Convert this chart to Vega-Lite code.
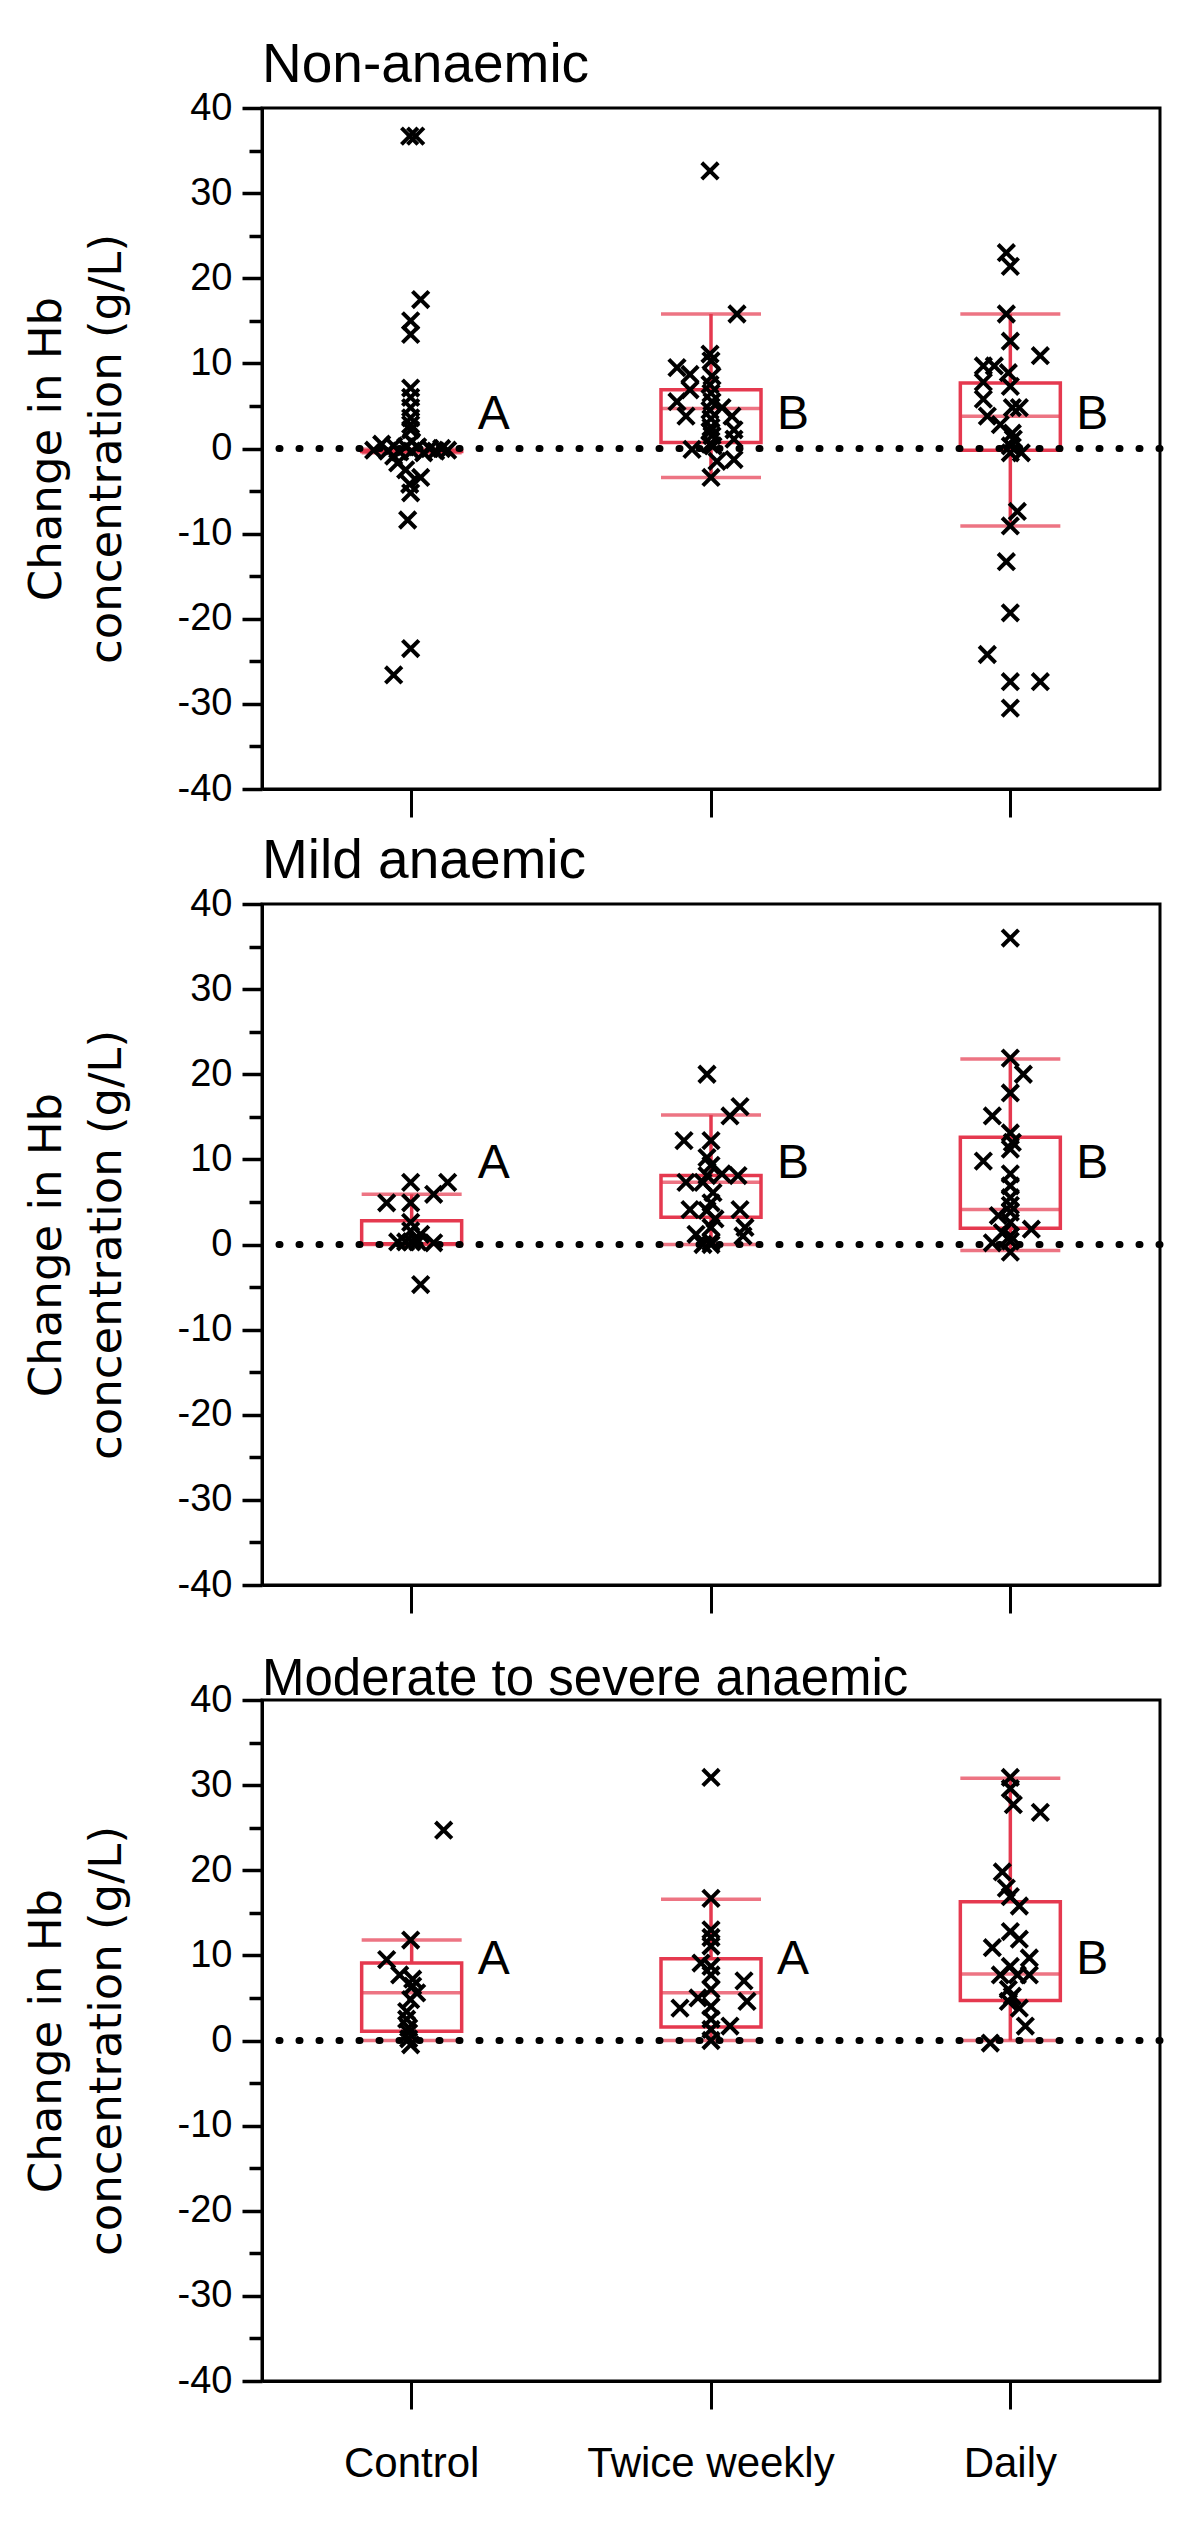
{
  "$schema": "https://vega.github.io/schema/vega-lite/v6.json",
  "autosize": "none",
  "padding": {"left": 262, "top": 108, "right": 40, "bottom": 2423},
  "background": "white",
  "config": {
    "view": {"stroke": "black", "strokeWidth": 3},
    "font": "Liberation Sans",
    "axis": {"domainColor": "black", "tickColor": "black", "labelColor": "black", "titleColor": "black", "grid": false, "domainWidth": 3, "tickWidth": 3, "labelFont": "Liberation Sans", "labelLimit": 0},
    "title": {"color": "black", "fontWeight": "normal", "font": "Liberation Sans"}
  },
  "datasets": {
    "pts": [
      {"p":"N","g":"Control","v":36.7,"j":-2},{"p":"N","g":"Control","v":36.7,"j":4},{"p":"N","g":"Control","v":17.5,"j":9},{"p":"N","g":"Control","v":15.0,"j":-1},{"p":"N","g":"Control","v":13.4,"j":-1},{"p":"N","g":"Control","v":7.1,"j":-1},{"p":"N","g":"Control","v":6.0,"j":-1},{"p":"N","g":"Control","v":4.8,"j":-1},{"p":"N","g":"Control","v":3.6,"j":-1},{"p":"N","g":"Control","v":2.8,"j":-1},{"p":"N","g":"Control","v":2.2,"j":-1},{"p":"N","g":"Control","v":0.8,"j":0},{"p":"N","g":"Control","v":0.5,"j":-30},{"p":"N","g":"Control","v":0.3,"j":-18},{"p":"N","g":"Control","v":0.2,"j":-6},{"p":"N","g":"Control","v":0.2,"j":6},{"p":"N","g":"Control","v":0.0,"j":18},{"p":"N","g":"Control","v":0.0,"j":30},{"p":"N","g":"Control","v":-0.2,"j":-38},{"p":"N","g":"Control","v":-0.3,"j":-24},{"p":"N","g":"Control","v":-0.4,"j":-12},{"p":"N","g":"Control","v":-0.3,"j":0},{"p":"N","g":"Control","v":-0.5,"j":12},{"p":"N","g":"Control","v":-0.3,"j":24},{"p":"N","g":"Control","v":-0.2,"j":36},{"p":"N","g":"Control","v":-0.9,"j":-18},{"p":"N","g":"Control","v":-1.7,"j":-14},{"p":"N","g":"Control","v":-2.5,"j":-6},{"p":"N","g":"Control","v":-3.4,"j":9},{"p":"N","g":"Control","v":-4.2,"j":-2},{"p":"N","g":"Control","v":-5.2,"j":-1},{"p":"N","g":"Control","v":-8.4,"j":-4},{"p":"N","g":"Control","v":-23.5,"j":-1},{"p":"N","g":"Control","v":-26.6,"j":-18},
      {"p":"N","g":"Twice weekly","v":32.6,"j":-1},{"p":"N","g":"Twice weekly","v":15.8,"j":26},{"p":"N","g":"Twice weekly","v":11.1,"j":-1},{"p":"N","g":"Twice weekly","v":10.3,"j":0},{"p":"N","g":"Twice weekly","v":9.5,"j":-34},{"p":"N","g":"Twice weekly","v":8.7,"j":-21},{"p":"N","g":"Twice weekly","v":8.5,"j":1},{"p":"N","g":"Twice weekly","v":7.5,"j":-1},{"p":"N","g":"Twice weekly","v":6.9,"j":-21},{"p":"N","g":"Twice weekly","v":6.5,"j":0},{"p":"N","g":"Twice weekly","v":5.5,"j":-34},{"p":"N","g":"Twice weekly","v":5.5,"j":1},{"p":"N","g":"Twice weekly","v":4.8,"j":11},{"p":"N","g":"Twice weekly","v":4.5,"j":-1},{"p":"N","g":"Twice weekly","v":3.8,"j":-25},{"p":"N","g":"Twice weekly","v":3.8,"j":21},{"p":"N","g":"Twice weekly","v":3.5,"j":0},{"p":"N","g":"Twice weekly","v":2.5,"j":0},{"p":"N","g":"Twice weekly","v":2.2,"j":23},{"p":"N","g":"Twice weekly","v":2.0,"j":-1},{"p":"N","g":"Twice weekly","v":1.5,"j":1},{"p":"N","g":"Twice weekly","v":1.1,"j":23},{"p":"N","g":"Twice weekly","v":0.5,"j":-1},{"p":"N","g":"Twice weekly","v":0.3,"j":2},{"p":"N","g":"Twice weekly","v":-0.1,"j":-19},{"p":"N","g":"Twice weekly","v":-1.3,"j":23},{"p":"N","g":"Twice weekly","v":-1.5,"j":6},{"p":"N","g":"Twice weekly","v":-3.4,"j":0},
      {"p":"N","g":"Daily","v":23.0,"j":-4},{"p":"N","g":"Daily","v":21.4,"j":0},{"p":"N","g":"Daily","v":15.8,"j":-4},{"p":"N","g":"Daily","v":12.6,"j":0},{"p":"N","g":"Daily","v":10.9,"j":30},{"p":"N","g":"Daily","v":9.7,"j":-27},{"p":"N","g":"Daily","v":9.7,"j":-16},{"p":"N","g":"Daily","v":8.9,"j":-2},{"p":"N","g":"Daily","v":7.8,"j":-27},{"p":"N","g":"Daily","v":7.3,"j":0},{"p":"N","g":"Daily","v":5.8,"j":-27},{"p":"N","g":"Daily","v":4.8,"j":2},{"p":"N","g":"Daily","v":4.8,"j":9},{"p":"N","g":"Daily","v":3.8,"j":-23},{"p":"N","g":"Daily","v":2.8,"j":-10},{"p":"N","g":"Daily","v":1.8,"j":2},{"p":"N","g":"Daily","v":1.1,"j":3},{"p":"N","g":"Daily","v":0.3,"j":0},{"p":"N","g":"Daily","v":-0.5,"j":11},{"p":"N","g":"Daily","v":-0.5,"j":0},{"p":"N","g":"Daily","v":-7.4,"j":7},{"p":"N","g":"Daily","v":-9.1,"j":0},{"p":"N","g":"Daily","v":-13.3,"j":-4},{"p":"N","g":"Daily","v":-19.3,"j":0},{"p":"N","g":"Daily","v":-24.2,"j":-23},{"p":"N","g":"Daily","v":-27.4,"j":0},{"p":"N","g":"Daily","v":-27.4,"j":30},{"p":"N","g":"Daily","v":-30.5,"j":0},
      {"p":"M","g":"Control","v":7.3,"j":-1},{"p":"M","g":"Control","v":7.3,"j":36},{"p":"M","g":"Control","v":5.9,"j":22},{"p":"M","g":"Control","v":4.9,"j":-25},{"p":"M","g":"Control","v":4.9,"j":-1},{"p":"M","g":"Control","v":2.6,"j":-1},{"p":"M","g":"Control","v":1.6,"j":-1},{"p":"M","g":"Control","v":1.2,"j":9},{"p":"M","g":"Control","v":0.3,"j":-14},{"p":"M","g":"Control","v":0.3,"j":-6},{"p":"M","g":"Control","v":0.3,"j":0},{"p":"M","g":"Control","v":0.3,"j":6},{"p":"M","g":"Control","v":0.2,"j":22},{"p":"M","g":"Control","v":-4.7,"j":9},
      {"p":"M","g":"Twice weekly","v":20.0,"j":-4},{"p":"M","g":"Twice weekly","v":16.2,"j":29},{"p":"M","g":"Twice weekly","v":15.1,"j":19},{"p":"M","g":"Twice weekly","v":12.2,"j":-27},{"p":"M","g":"Twice weekly","v":12.2,"j":0},{"p":"M","g":"Twice weekly","v":10.2,"j":-4},{"p":"M","g":"Twice weekly","v":9.3,"j":0},{"p":"M","g":"Twice weekly","v":8.1,"j":-4},{"p":"M","g":"Twice weekly","v":8.3,"j":11},{"p":"M","g":"Twice weekly","v":8.1,"j":27},{"p":"M","g":"Twice weekly","v":7.3,"j":-25},{"p":"M","g":"Twice weekly","v":7.3,"j":-8},{"p":"M","g":"Twice weekly","v":6.1,"j":2},{"p":"M","g":"Twice weekly","v":4.9,"j":0},{"p":"M","g":"Twice weekly","v":4.1,"j":-21},{"p":"M","g":"Twice weekly","v":4.1,"j":29},{"p":"M","g":"Twice weekly","v":4.0,"j":-4},{"p":"M","g":"Twice weekly","v":3.0,"j":4},{"p":"M","g":"Twice weekly","v":2.0,"j":0},{"p":"M","g":"Twice weekly","v":2.0,"j":34},{"p":"M","g":"Twice weekly","v":1.0,"j":32},{"p":"M","g":"Twice weekly","v":1.2,"j":-15},{"p":"M","g":"Twice weekly","v":0.3,"j":0},{"p":"M","g":"Twice weekly","v":0.0,"j":-8},{"p":"M","g":"Twice weekly","v":0.0,"j":0},
      {"p":"M","g":"Daily","v":36.0,"j":0},{"p":"M","g":"Daily","v":21.9,"j":0},{"p":"M","g":"Daily","v":20.0,"j":13},{"p":"M","g":"Daily","v":17.8,"j":0},{"p":"M","g":"Daily","v":15.1,"j":-18},{"p":"M","g":"Daily","v":13.1,"j":0},{"p":"M","g":"Daily","v":12.0,"j":2},{"p":"M","g":"Daily","v":11.2,"j":0},{"p":"M","g":"Daily","v":9.8,"j":-27},{"p":"M","g":"Daily","v":8.3,"j":0},{"p":"M","g":"Daily","v":6.9,"j":0},{"p":"M","g":"Daily","v":5.5,"j":0},{"p":"M","g":"Daily","v":4.6,"j":0},{"p":"M","g":"Daily","v":3.8,"j":0},{"p":"M","g":"Daily","v":3.4,"j":-12},{"p":"M","g":"Daily","v":2.6,"j":0},{"p":"M","g":"Daily","v":1.8,"j":21},{"p":"M","g":"Daily","v":1.4,"j":-8},{"p":"M","g":"Daily","v":1.0,"j":0},{"p":"M","g":"Daily","v":0.4,"j":0},{"p":"M","g":"Daily","v":0.2,"j":-18},{"p":"M","g":"Daily","v":-0.9,"j":0},
      {"p":"S","g":"Control","v":24.7,"j":32},{"p":"S","g":"Control","v":11.8,"j":-1},{"p":"S","g":"Control","v":9.5,"j":-25},{"p":"S","g":"Control","v":7.7,"j":-12},{"p":"S","g":"Control","v":7.2,"j":1},{"p":"S","g":"Control","v":6.4,"j":1},{"p":"S","g":"Control","v":5.6,"j":5},{"p":"S","g":"Control","v":4.8,"j":-1},{"p":"S","g":"Control","v":3.4,"j":-5},{"p":"S","g":"Control","v":2.5,"j":-5},{"p":"S","g":"Control","v":1.5,"j":-3},{"p":"S","g":"Control","v":0.9,"j":-3},{"p":"S","g":"Control","v":0.2,"j":-3},{"p":"S","g":"Control","v":-0.5,"j":-1},
      {"p":"S","g":"Twice weekly","v":30.9,"j":0},{"p":"S","g":"Twice weekly","v":16.7,"j":0},{"p":"S","g":"Twice weekly","v":13.0,"j":0},{"p":"S","g":"Twice weekly","v":12.1,"j":0},{"p":"S","g":"Twice weekly","v":11.1,"j":0},{"p":"S","g":"Twice weekly","v":9.1,"j":-10},{"p":"S","g":"Twice weekly","v":8.7,"j":0},{"p":"S","g":"Twice weekly","v":7.7,"j":0},{"p":"S","g":"Twice weekly","v":7.0,"j":33},{"p":"S","g":"Twice weekly","v":6.0,"j":0},{"p":"S","g":"Twice weekly","v":5.0,"j":-13},{"p":"S","g":"Twice weekly","v":3.8,"j":-31},{"p":"S","g":"Twice weekly","v":4.6,"j":36},{"p":"S","g":"Twice weekly","v":4.0,"j":0},{"p":"S","g":"Twice weekly","v":2.5,"j":0},{"p":"S","g":"Twice weekly","v":1.7,"j":19},{"p":"S","g":"Twice weekly","v":1.3,"j":0},{"p":"S","g":"Twice weekly","v":0.0,"j":0},
      {"p":"S","g":"Daily","v":30.9,"j":0},{"p":"S","g":"Daily","v":29.6,"j":0},{"p":"S","g":"Daily","v":27.7,"j":3},{"p":"S","g":"Daily","v":26.8,"j":30},{"p":"S","g":"Daily","v":19.8,"j":-8},{"p":"S","g":"Daily","v":17.9,"j":-4},{"p":"S","g":"Daily","v":16.9,"j":0},{"p":"S","g":"Daily","v":15.8,"j":9},{"p":"S","g":"Daily","v":12.8,"j":0},{"p":"S","g":"Daily","v":11.9,"j":9},{"p":"S","g":"Daily","v":10.9,"j":-18},{"p":"S","g":"Daily","v":9.7,"j":19},{"p":"S","g":"Daily","v":8.7,"j":0},{"p":"S","g":"Daily","v":7.7,"j":-10},{"p":"S","g":"Daily","v":7.7,"j":19},{"p":"S","g":"Daily","v":7.7,"j":7},{"p":"S","g":"Daily","v":6.0,"j":-2},{"p":"S","g":"Daily","v":5.2,"j":2},{"p":"S","g":"Daily","v":4.6,"j":-2},{"p":"S","g":"Daily","v":3.8,"j":9},{"p":"S","g":"Daily","v":1.7,"j":15},{"p":"S","g":"Daily","v":-0.3,"j":-20}
    ],
    "box": [
      {"p":"N","g":"Control","lo":-0.5,"q1":-0.35,"med":-0.3,"q3":-0.25,"hi":-0.1},
      {"p":"N","g":"Twice weekly","lo":-3.4,"q1":0.7,"med":4.7,"q3":6.9,"hi":15.8},
      {"p":"N","g":"Daily","lo":-9.1,"q1":-0.2,"med":3.8,"q3":7.7,"hi":15.8},
      {"p":"M","g":"Control","lo":0,"q1":0.1,"med":0.1,"q3":2.8,"hi":5.9},
      {"p":"M","g":"Twice weekly","lo":0,"q1":3.2,"med":7.3,"q3":8.1,"hi":15.2},
      {"p":"M","g":"Daily","lo":-0.7,"q1":1.9,"med":4.1,"q3":12.6,"hi":21.8},
      {"p":"S","g":"Control","lo":0,"q1":1.1,"med":5.6,"q3":9.1,"hi":11.8},
      {"p":"S","g":"Twice weekly","lo":0,"q1":1.6,"med":5.6,"q3":9.6,"hi":16.6},
      {"p":"S","g":"Daily","lo":0,"q1":4.7,"med":7.8,"q3":16.3,"hi":30.8}
    ],
    "lab": [
      {"p":"N","g":"Control","t":"A","v":3.9},{"p":"N","g":"Twice weekly","t":"B","v":3.9},{"p":"N","g":"Daily","t":"B","v":3.9},
      {"p":"M","g":"Control","t":"A","v":9.5},{"p":"M","g":"Twice weekly","t":"B","v":9.5},{"p":"M","g":"Daily","t":"B","v":9.5},
      {"p":"S","g":"Control","t":"A","v":9.4},{"p":"S","g":"Twice weekly","t":"A","v":9.4},{"p":"S","g":"Daily","t":"B","v":9.4}
    ]
  },
  "vconcat": [
    {
      "width": 898, "height": 681,
      "title": {"text": "Non-anaemic", "anchor": "start", "frame": "group", "fontSize": 55, "baseline": "alphabetic", "offset": -48},
      "layer": [
        {"data": {"name": "box"}, "transform": [{"filter": "datum.p === 'N'"}],
         "mark": {"type": "rule", "color": "#E5394F", "strokeWidth": 3.5},
         "encoding": {
           "x": {"field": "g", "type": "nominal", "sort": null, "scale": {"type": "band", "domain": ["Control", "Twice weekly", "Daily"], "paddingInner": 0, "paddingOuter": 0}, "axis": {"title": null, "labels": false, "tickSize": 28, "tickWidth": 3, "domainWidth": 3}},
           "y": {"field": "lo", "type": "quantitative", "scale": {"domain": [-40, 40], "nice": false, "zero": false},
                 "axis": {"values": [-40,-35,-30,-25,-20,-15,-10,-5,0,5,10,15,20,25,30,35,40], "labelExpr": "datum.value % 10 === 0 ? '' + datum.value : ''", "tickSize": {"condition": {"test": "datum.value % 10 !== 0", "value": 13}, "value": 20}, "tickWidth": 3.5, "domainWidth": 3, "labelFontSize": 38, "labelPadding": 10, "labelOverlap": false, "labelFlush": false, "title": ["Change in Hb", "concentration (g/L)"], "titleFont": "DejaVu Sans", "titleFontSize": 45, "titleFontWeight": "normal", "titleLineHeight": 60, "titlePadding": 48}},
           "y2": {"field": "hi"}
         }},
        {"data": {"name": "box"}, "transform": [{"filter": "datum.p === 'N'"}],
         "mark": {"type": "bar", "width": 100, "fill": "white", "stroke": "#E5394F", "strokeWidth": 3.5},
         "encoding": {"x": {"field": "g", "type": "nominal"}, "y": {"field": "q1", "type": "quantitative"}, "y2": {"field": "q3"}}},
        {"data": {"name": "box"}, "transform": [{"filter": "datum.p === 'N'"}, {"fold": ["lo", "med", "hi"], "as": ["k", "val"]}],
         "mark": {"type": "tick", "size": 100, "thickness": 3.5, "color": "#E5394F"},
         "encoding": {"x": {"field": "g", "type": "nominal"}, "y": {"field": "val", "type": "quantitative"}}},
        {"data": {"values": [{}]},
         "mark": {"type": "rule", "color": "black", "strokeWidth": 7, "strokeDash": [1, 19], "strokeCap": "round"},
         "encoding": {"y": {"datum": 0}}},
        {"data": {"name": "pts"}, "transform": [{"filter": "datum.p === 'N'"}],
         "mark": {"type": "point", "shape": "M-1,-1L1,1M-1,1L1,-1", "size": 270, "stroke": "black", "strokeWidth": 4, "filled": false, "opacity": 1},
         "encoding": {"x": {"field": "g", "type": "nominal"}, "xOffset": {"field": "j", "type": "quantitative", "scale": {"domain": [-149.67, 149.67], "range": [0, 299.33]}}, "y": {"field": "v", "type": "quantitative"}}},
        {"data": {"name": "lab"}, "transform": [{"filter": "datum.p === 'N'"}],
         "mark": {"type": "text", "dx": 82, "fontSize": 48, "font": "Liberation Sans", "color": "black", "baseline": "middle", "align": "center"},
         "encoding": {"x": {"field": "g", "type": "nominal"}, "y": {"field": "v", "type": "quantitative"}, "text": {"field": "t"}}}
      ]
    },
    {
      "width": 898, "height": 681,
      "title": {"text": "Mild anaemic", "anchor": "start", "frame": "group", "fontSize": 55, "baseline": "alphabetic", "offset": -48},
      "layer": [
        {"data": {"name": "box"}, "transform": [{"filter": "datum.p === 'M'"}],
         "mark": {"type": "rule", "color": "#E5394F", "strokeWidth": 3.5},
         "encoding": {
           "x": {"field": "g", "type": "nominal", "sort": null, "scale": {"type": "band", "domain": ["Control", "Twice weekly", "Daily"], "paddingInner": 0, "paddingOuter": 0}, "axis": {"title": null, "labels": false, "tickSize": 28, "tickWidth": 3, "domainWidth": 3}},
           "y": {"field": "lo", "type": "quantitative", "scale": {"domain": [-40, 40], "nice": false, "zero": false},
                 "axis": {"values": [-40,-35,-30,-25,-20,-15,-10,-5,0,5,10,15,20,25,30,35,40], "labelExpr": "datum.value % 10 === 0 ? '' + datum.value : ''", "tickSize": {"condition": {"test": "datum.value % 10 !== 0", "value": 13}, "value": 20}, "tickWidth": 3.5, "domainWidth": 3, "labelFontSize": 38, "labelPadding": 10, "labelOverlap": false, "labelFlush": false, "title": ["Change in Hb", "concentration (g/L)"], "titleFont": "DejaVu Sans", "titleFontSize": 45, "titleFontWeight": "normal", "titleLineHeight": 60, "titlePadding": 48}},
           "y2": {"field": "hi"}
         }},
        {"data": {"name": "box"}, "transform": [{"filter": "datum.p === 'M'"}],
         "mark": {"type": "bar", "width": 100, "fill": "white", "stroke": "#E5394F", "strokeWidth": 3.5},
         "encoding": {"x": {"field": "g", "type": "nominal"}, "y": {"field": "q1", "type": "quantitative"}, "y2": {"field": "q3"}}},
        {"data": {"name": "box"}, "transform": [{"filter": "datum.p === 'M'"}, {"fold": ["lo", "med", "hi"], "as": ["k", "val"]}],
         "mark": {"type": "tick", "size": 100, "thickness": 3.5, "color": "#E5394F"},
         "encoding": {"x": {"field": "g", "type": "nominal"}, "y": {"field": "val", "type": "quantitative"}}},
        {"data": {"values": [{}]},
         "mark": {"type": "rule", "color": "black", "strokeWidth": 7, "strokeDash": [1, 19], "strokeCap": "round"},
         "encoding": {"y": {"datum": 0}}},
        {"data": {"name": "pts"}, "transform": [{"filter": "datum.p === 'M'"}],
         "mark": {"type": "point", "shape": "M-1,-1L1,1M-1,1L1,-1", "size": 270, "stroke": "black", "strokeWidth": 4, "filled": false, "opacity": 1},
         "encoding": {"x": {"field": "g", "type": "nominal"}, "xOffset": {"field": "j", "type": "quantitative", "scale": {"domain": [-149.67, 149.67], "range": [0, 299.33]}}, "y": {"field": "v", "type": "quantitative"}}},
        {"data": {"name": "lab"}, "transform": [{"filter": "datum.p === 'M'"}],
         "mark": {"type": "text", "dx": 82, "fontSize": 48, "font": "Liberation Sans", "color": "black", "baseline": "middle", "align": "center"},
         "encoding": {"x": {"field": "g", "type": "nominal"}, "y": {"field": "v", "type": "quantitative"}, "text": {"field": "t"}}}
      ]
    },
    {
      "width": 898, "height": 681,
      "title": {"text": "Moderate to severe anaemic", "anchor": "start", "frame": "group", "fontSize": 51, "baseline": "alphabetic", "offset": -65},
      "layer": [
        {"data": {"name": "box"}, "transform": [{"filter": "datum.p === 'S'"}],
         "mark": {"type": "rule", "color": "#E5394F", "strokeWidth": 3.5},
         "encoding": {
           "x": {"field": "g", "type": "nominal", "sort": null, "scale": {"type": "band", "domain": ["Control", "Twice weekly", "Daily"], "paddingInner": 0, "paddingOuter": 0}, "axis": {"title": null, "labels": true, "labelAngle": 0, "labelFontSize": 42, "labelPadding": 34, "labelLimit": 0, "tickSize": 28, "tickWidth": 3, "domainWidth": 3}},
           "y": {"field": "lo", "type": "quantitative", "scale": {"domain": [-40, 40], "nice": false, "zero": false},
                 "axis": {"values": [-40,-35,-30,-25,-20,-15,-10,-5,0,5,10,15,20,25,30,35,40], "labelExpr": "datum.value % 10 === 0 ? '' + datum.value : ''", "tickSize": {"condition": {"test": "datum.value % 10 !== 0", "value": 13}, "value": 20}, "tickWidth": 3.5, "domainWidth": 3, "labelFontSize": 38, "labelPadding": 10, "labelOverlap": false, "labelFlush": false, "title": ["Change in Hb", "concentration (g/L)"], "titleFont": "DejaVu Sans", "titleFontSize": 45, "titleFontWeight": "normal", "titleLineHeight": 60, "titlePadding": 48}},
           "y2": {"field": "hi"}
         }},
        {"data": {"name": "box"}, "transform": [{"filter": "datum.p === 'S'"}],
         "mark": {"type": "bar", "width": 100, "fill": "white", "stroke": "#E5394F", "strokeWidth": 3.5},
         "encoding": {"x": {"field": "g", "type": "nominal"}, "y": {"field": "q1", "type": "quantitative"}, "y2": {"field": "q3"}}},
        {"data": {"name": "box"}, "transform": [{"filter": "datum.p === 'S'"}, {"fold": ["lo", "med", "hi"], "as": ["k", "val"]}],
         "mark": {"type": "tick", "size": 100, "thickness": 3.5, "color": "#E5394F"},
         "encoding": {"x": {"field": "g", "type": "nominal"}, "y": {"field": "val", "type": "quantitative"}}},
        {"data": {"values": [{}]},
         "mark": {"type": "rule", "color": "black", "strokeWidth": 7, "strokeDash": [1, 19], "strokeCap": "round"},
         "encoding": {"y": {"datum": 0}}},
        {"data": {"name": "pts"}, "transform": [{"filter": "datum.p === 'S'"}],
         "mark": {"type": "point", "shape": "M-1,-1L1,1M-1,1L1,-1", "size": 270, "stroke": "black", "strokeWidth": 4, "filled": false, "opacity": 1},
         "encoding": {"x": {"field": "g", "type": "nominal"}, "xOffset": {"field": "j", "type": "quantitative", "scale": {"domain": [-149.67, 149.67], "range": [0, 299.33]}}, "y": {"field": "v", "type": "quantitative"}}},
        {"data": {"name": "lab"}, "transform": [{"filter": "datum.p === 'S'"}],
         "mark": {"type": "text", "dx": 82, "fontSize": 48, "font": "Liberation Sans", "color": "black", "baseline": "middle", "align": "center"},
         "encoding": {"x": {"field": "g", "type": "nominal"}, "y": {"field": "v", "type": "quantitative"}, "text": {"field": "t"}}}
      ]
    }
  ],
  "spacing": 115,
  "bounds": "flush"
}
